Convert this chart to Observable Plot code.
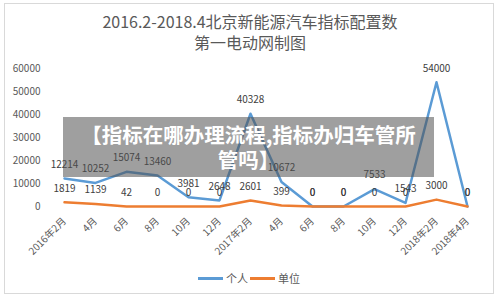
<!DOCTYPE html>
<html>
<head>
<meta charset="utf-8">
<script src="https://cdn.jsdelivr.net/npm/d3@7"></script>
<script src="https://cdn.jsdelivr.net/npm/@observablehq/plot@0.6"></script>
<style>
  html, body { margin: 0; padding: 0; background: #fff; }
  #wrap { position: relative; width: 500px; height: 299px; overflow: hidden; font-family: "Noto Sans CJK SC", "Noto Sans", sans-serif; }
  #frame { position: absolute; left: 4px; top: 3px; width: 490px; height: 291px; border: 1px solid #d9d9d9; box-sizing: border-box; }
  #title { position: absolute; left: 0; top: 11px; width: 500px; text-align: center; color: #595959; font-size: 16px; line-height: 21px; }
  #chart { position: absolute; left: 0; top: 0; }
  #legend { position: absolute; top: 270px; left: 0; width: 500px; font-size: 11px; color: #595959; }
  .lg { position: absolute; top: 0; display: flex; align-items: center; height: 16px; }
  .sw { width: 25px; height: 3px; margin-right: 3px; }
  #banner { position: absolute; left: 63px; top: 117px; width: 371px; height: 60px; background: rgba(80,80,80,0.55); color: #fff; font-weight: bold; font-size: 20.5px; line-height: 25px; text-align: center; padding-top: 5px; box-sizing: border-box; white-space: nowrap; }
</style>
</head>
<body>
<div id="wrap">
  <div id="frame"></div>
  <div id="chart"></div>
  <div id="title">2016.2-2018.4北京新能源汽车指标配置数<br>第一电动网制图</div>
  <div id="legend"></div>
  <div id="banner">【指标在哪办理流程,指标办归车管所<br>管吗】</div>
</div>
<script>
const months = ["2016年2月","4月","6月","8月","10月","12月","2017年2月","4月","6月","8月","10月","12月","2018年2月","2018年4月"];
const personal = [12214, 10252, 15074, 13460, 3981, 2648, 40328, 10672, 0, 0, 7533, 1543, 54000, 0];
const company = [1819, 1139, 42, 0, 0, 0, 2601, 399, 0, 0, 0, 0, 3000, 0];
const seriesNames = ["个人", "单位"];
const seriesColors = ["#5B9BD5", "#ED7D31"];
const yTicks = [0, 10000, 20000, 30000, 40000, 50000, 60000];

const rows = [];
months.forEach((m, i) => {
  rows.push({i, series: seriesNames[0], value: personal[i]});
  rows.push({i, series: seriesNames[1], value: company[i]});
});
const idx = d3.range(months.length);

const chart = Plot.plot({
  width: 500,
  height: 299,
  marginTop: 68,
  marginBottom: 93,
  marginLeft: 47,
  marginRight: 17,
  style: {fontFamily: '"Noto Sans CJK SC", "Noto Sans", sans-serif', fontSize: "10px", color: "#595959", background: "transparent"},
  x: {type: "point", domain: idx, padding: 0.5},
  y: {domain: [0, 60000]},
  color: {domain: seriesNames, range: seriesColors},
  marks: [
    Plot.gridY(yTicks, {stroke: "#d9d9d9", strokeOpacity: 1, x1: 47, x2: 483}),
    Plot.axisY(yTicks, {tickSize: 0, tickPadding: 7, fontSize: 10, fill: "#595959", tickFormat: d => String(d), label: null}),
    Plot.axisX(idx, {tickSize: 0, tickPadding: 13, tickRotate: -45, fontSize: 10, fill: "#595959", tickFormat: i => months[i], label: null}),
    Plot.line(rows.filter(d => d.series === seriesNames[0]), {x: "i", y: "value", stroke: seriesColors[0], strokeWidth: 2.5}),
    Plot.line(rows.filter(d => d.series === seriesNames[1]), {x: "i", y: "value", stroke: seriesColors[1], strokeWidth: 2.5}),
    Plot.text(rows, {x: "i", y: "value", text: d => String(d.value), dy: -14, fill: "#404040", fontSize: 10})
  ]
});
document.getElementById("chart").appendChild(chart);

const legend = document.getElementById("legend");
const lgX = [198, 250];
seriesNames.forEach((n, k) => {
  const el = document.createElement("div");
  el.className = "lg";
  el.style.left = lgX[k] + "px";
  el.innerHTML = `<div class="sw" style="background:${seriesColors[k]}"></div><span>${n}</span>`;
  legend.appendChild(el);
});
</script>
</body>
</html>
